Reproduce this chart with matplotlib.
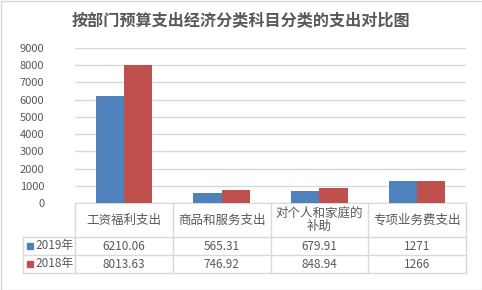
import numpy as np
import matplotlib.pyplot as plt
from matplotlib.lines import Line2D
from matplotlib.patches import Rectangle

plt.rcParams['font.family'] = ['Noto Sans CJK SC', 'DejaVu Sans']

# ---------------- data ----------------
categories = ['工资福利支出', '商品和服务支出', '对个人和家庭的\n补助', '专项业务费支出']
series_names = ['2019年', '2018年']
values_2019 = [6210.06, 565.31, 679.91, 1271]
values_2018 = [8013.63, 746.92, 848.94, 1266]
labels_2019 = ['6210.06', '565.31', '679.91', '1271']
labels_2018 = ['8013.63', '746.92', '848.94', '1266']
yticks = [0, 1000, 2000, 3000, 4000, 5000, 6000, 7000, 8000, 9000]

W, H = 482, 290
blue = '#4F81BD'
red = '#C0504D'
txt = '#595959'
grid = '#D9D9D9'

fig = plt.figure(figsize=(W / 100, H / 100), dpi=100)

def fx(px):
    return px / W

def fy(py):
    return 1 - py / H

# border of chart area
fig.add_artist(Rectangle((fx(0.5), fy(289.5)), fx(481), 1 - fy(289), transform=fig.transFigure,
                         fill=False, edgecolor='#D9D9D9', lw=1))

fig.text(0.5, fy(20), '按部门预算支出经济分类科目分类的支出对比图', ha='center', va='center',
         fontsize=11.6, fontweight='bold', color=txt)

# plot area
x0, x1, ytop, ybot = 75, 466, 48, 203
ax = fig.add_axes([fx(x0), fy(ybot), fx(x1) - fx(x0), fy(ytop) - fy(ybot)])
x = np.arange(len(categories))
bw = 0.29
ax.bar(x - bw / 2, values_2019, bw, color=blue, zorder=3)
ax.bar(x + bw / 2, values_2018, bw, color=red, zorder=3)
ax.set_xlim(-0.5, len(categories) - 0.5)
ax.set_ylim(0, 9000)
ax.set_yticks(yticks)
ax.set_yticklabels([str(t) for t in yticks], fontsize=8, color=txt)
ax.tick_params(axis='y', length=0, pad=22)
ax.set_xticks([])
ax.yaxis.grid(True, color=grid, lw=1, zorder=0)
for s in ['top', 'right', 'left']:
    ax.spines[s].set_visible(False)
ax.spines['bottom'].set_color(grid)

# data table below
cols = [75, 172.75, 270.5, 368.25, 466]
row_y = [203, 237, 255, 273]
lk = dict(transform=fig.transFigure, color=grid, lw=1)
for cx in cols:
    fig.add_artist(Line2D([fx(cx)] * 2, [fy(203), fy(273)], **lk))
fig.add_artist(Line2D([fx(23)] * 2, [fy(237), fy(273)], **lk))
for ry in row_y[1:]:
    fig.add_artist(Line2D([fx(23), fx(466)], [fy(ry)] * 2, **lk))

for i, cat in enumerate(categories):
    cx = (cols[i] + cols[i + 1]) / 2
    fig.text(fx(cx), fy(220), cat, ha='center', va='center', fontsize=9, color=txt,
             linespacing=0.95)
    fig.text(fx(cx), fy(246), labels_2019[i], ha='center', va='center', fontsize=8.5, color=txt)
    fig.text(fx(cx), fy(264), labels_2018[i], ha='center', va='center', fontsize=8.5, color=txt)

for name, col, ry in zip(series_names, [blue, red], [246, 264]):
    fig.add_artist(Rectangle((fx(27), fy(ry + 3)), fx(6), fy(ry - 3) - fy(ry + 3),
                             transform=fig.transFigure, color=col))
    fig.text(fx(35), fy(ry), name, ha='left', va='center', fontsize=8.5, color=txt)

fig.savefig('out.png', dpi=100)
